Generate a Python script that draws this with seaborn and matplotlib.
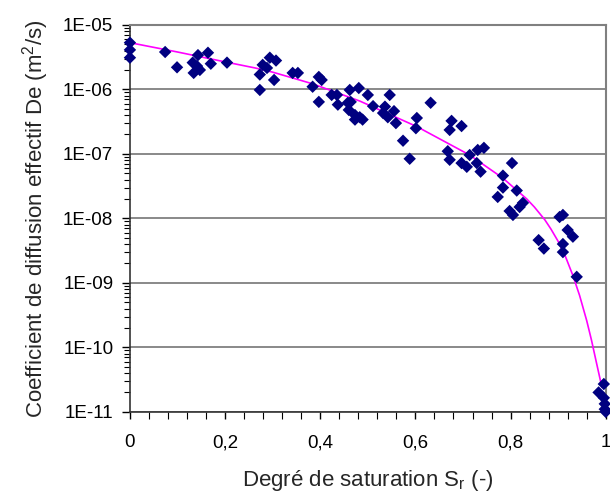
import numpy as np
import pandas as pd
import matplotlib
matplotlib.use('Agg')
import matplotlib.pyplot as plt
from matplotlib.ticker import FixedLocator, FuncFormatter, LogLocator, NullFormatter
import seaborn as sns

# mesures : degré de saturation / coefficient de diffusion effectif
sr = [0.0, 0.0, 0.0, 0.074, 0.099, 0.132, 0.134, 0.143, 0.147, 0.141, 0.164, 0.170,
      0.204, 0.273, 0.273, 0.279, 0.288, 0.294, 0.307, 0.303, 0.342, 0.353, 0.384,
      0.397, 0.403, 0.397, 0.424, 0.435, 0.437, 0.462, 0.481, 0.458, 0.464, 0.460,
      0.473, 0.473, 0.489, 0.483, 0.500, 0.511, 0.546, 0.536, 0.532, 0.542, 0.555,
      0.559, 0.632, 0.603, 0.601, 0.574, 0.588, 0.676, 0.697, 0.672, 0.668, 0.672,
      0.697, 0.708, 0.714, 0.731, 0.744, 0.729, 0.737, 0.803, 0.784, 0.784, 0.813,
      0.773, 0.826, 0.819, 0.798, 0.805, 0.903, 0.910, 0.920, 0.931, 0.859, 0.870,
      0.910, 0.910, 0.939, 0.996, 0.985, 0.996, 0.998, 0.998, 1.0]
de = [5.3e-6, 4.1e-6, 3.1e-6, 3.8e-6, 2.2e-6, 2.6e-6, 1.8e-6, 3.4e-6, 2.0e-6, 2.3e-6,
      3.7e-6, 2.5e-6, 2.6e-6, 1.7e-6, 9.8e-7, 2.4e-6, 2.15e-6, 3.1e-6, 2.8e-6, 1.4e-6,
      1.8e-6, 1.8e-6, 1.1e-6, 1.56e-6, 1.4e-6, 6.4e-7, 8.2e-7, 8.2e-7, 5.8e-7, 9.8e-7,
      1.05e-6, 6.2e-7, 6.4e-7, 4.8e-7, 4.0e-7, 3.4e-7, 3.4e-7, 3.7e-7, 8.2e-7, 5.5e-7,
      8.2e-7, 5.4e-7, 4.3e-7, 3.7e-7, 4.6e-7, 3.0e-7, 6.2e-7, 3.6e-7, 2.5e-7, 1.6e-7,
      8.4e-8, 3.25e-7, 2.7e-7, 2.35e-7, 1.1e-7, 8.1e-8, 7.2e-8, 6.3e-8, 9.6e-8, 1.15e-7,
      1.24e-7, 7.2e-8, 5.3e-8, 7.2e-8, 4.6e-8, 3.0e-8, 2.7e-8, 2.15e-8, 1.74e-8, 1.5e-8,
      1.3e-8, 1.13e-8, 1.05e-8, 1.13e-8, 6.6e-9, 5.2e-9, 4.6e-9, 3.4e-9, 4.0e-9, 3.0e-9,
      1.24e-9, 2.7e-11, 2.0e-11, 1.65e-11, 1.33e-11, 1.1e-11, 1.0e-11]

# courbe d'ajustement
fit_sr = [0.0, 0.1, 0.2, 0.263, 0.3, 0.384, 0.483, 0.603, 0.714, 0.784, 0.834, 0.85,
          0.872, 0.885, 0.9, 0.915, 0.931, 0.945, 0.96, 0.97, 0.98, 0.992]
fit_de = [5.3e-6, 3.8e-6, 2.67e-6, 2.15e-6, 1.85e-6, 1.22e-6, 6.6e-7, 2.65e-7, 9.6e-8,
          4.2e-8, 2.0e-8, 1.5e-8, 9.5e-9, 6.8e-9, 4.4e-9, 2.6e-9, 1.3e-9, 6.4e-10,
          2.6e-10, 1.3e-10, 6.0e-11, 2.4e-11]

x_ticks = [0, 0.2, 0.4, 0.6, 0.8, 1.0]
y_ticks = [1e-11, 1e-10, 1e-9, 1e-8, 1e-7, 1e-6, 1e-5]
y_labels = ['1E-11', '1E-10', '1E-09', '1E-08', '1E-07', '1E-06', '1E-05']

df = pd.DataFrame({'Sr': sr, 'De': de})
fit = pd.DataFrame({'Sr': fit_sr, 'De': fit_de})

sns.set_theme(style='white')
plt.rcParams['font.family'] = ['Liberation Sans', 'DejaVu Sans']
plt.rcParams['mathtext.fontset'] = 'custom'
plt.rcParams['mathtext.rm'] = 'Liberation Sans'
plt.rcParams['mathtext.it'] = 'Liberation Sans'

fig = plt.figure(figsize=(6.1, 4.98), dpi=100)
ax = fig.add_axes([0.213, 0.173, 0.78, 0.777])

ax.set_yscale('log')
ax.set_xlim(0, 1)
ax.set_ylim(1e-11, 1e-5)

ax.yaxis.set_major_locator(FixedLocator(y_ticks))
ax.set_yticklabels(y_labels)
ax.yaxis.set_minor_locator(LogLocator(base=10, subs=np.arange(2, 10)))
ax.yaxis.set_minor_formatter(NullFormatter())
ax.yaxis.grid(True, which='major', color='#808080', lw=1.3)
ax.set_axisbelow(True)

ax.xaxis.set_major_locator(FixedLocator(x_ticks))
ax.xaxis.set_major_formatter(FuncFormatter(lambda v, p: f'{v:g}'.replace('.', ',')))
ax.xaxis.set_minor_locator(FixedLocator(np.arange(0.04, 1.0, 0.04)))

sns.lineplot(data=fit, x='Sr', y='De', color='#FF00FF', lw=1.2, sort=False,
             estimator=None, ax=ax, zorder=2)
sns.scatterplot(data=df, x='Sr', y='De', marker='D', s=40, color='#000080',
                edgecolor='none', ax=ax, zorder=3, clip_on=False)

ax.tick_params(axis='both', which='both', direction='out', labelsize=13.5, colors='black')
ax.tick_params(axis='y', which='major', length=6, width=1, pad=6, left=True)
ax.tick_params(axis='y', which='minor', length=4, width=0.8, left=True)
ax.tick_params(axis='x', which='major', length=5, width=1, pad=11, bottom=True)
ax.tick_params(axis='x', which='minor', length=5, width=0.8, bottom=True)

for side in ['top', 'right']:
    ax.spines[side].set_color('#808080')
    ax.spines[side].set_linewidth(1.5)
for side in ['left', 'bottom']:
    ax.spines[side].set_color('#333333')
    ax.spines[side].set_linewidth(1.2)

ax.set_xlabel('Degré de saturation S$_\\mathrm{r}$ (-)', fontsize=16, labelpad=12)
ax.set_ylabel('Coefficient de diffusion effectif De (m$^2$/s)', fontsize=16, labelpad=9)

fig.savefig('out.png', dpi=100)
